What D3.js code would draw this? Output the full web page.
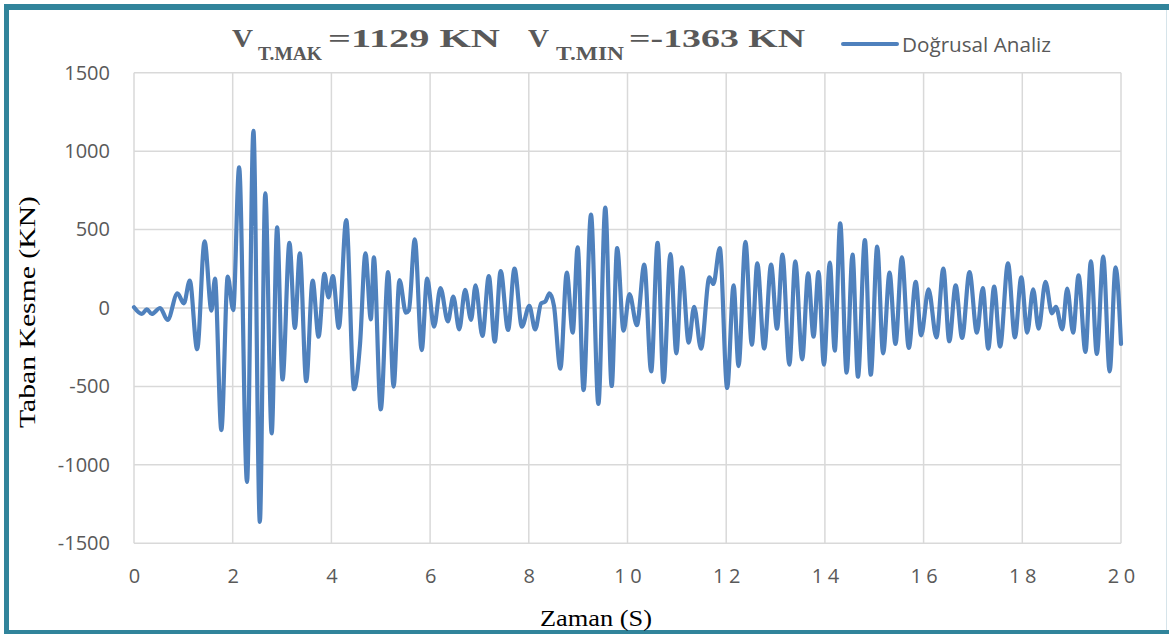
<!DOCTYPE html>
<html>
<head>
<meta charset="utf-8">
<script src="https://cdn.jsdelivr.net/npm/d3@7/dist/d3.min.js"></script>
<style>
  html, body { margin: 0; padding: 0; background: #fff; }
  svg { display: block; }
</style>
</head>
<body>
<svg id="chart" width="1169" height="634"></svg>
<script>
// Base shear time history (extrema of the response, seconds / kN)
const timeS = [
  0.00, 0.16, 0.26, 0.36, 0.53, 0.68, 0.88, 1.01, 1.13, 1.28,
  1.43, 1.57, 1.64, 1.77, 1.90, 2.01, 2.13, 2.29, 2.42, 2.55,
  2.66, 2.79, 2.90, 3.01, 3.15, 3.26, 3.36, 3.49, 3.62, 3.74,
  3.86, 3.94, 4.03, 4.15, 4.30, 4.46, 4.58, 4.69, 4.80, 4.86,
  5.00, 5.15, 5.26, 5.38, 5.51, 5.57, 5.69, 5.83, 5.94, 6.08,
  6.21, 6.36, 6.47, 6.59, 6.71, 6.83, 6.92, 7.06, 7.19, 7.31,
  7.43, 7.58, 7.71, 7.86, 8.01, 8.13, 8.25, 8.33, 8.42, 8.51,
  8.64, 8.77, 8.89, 8.99, 9.11, 9.26, 9.41, 9.55, 9.68, 9.79,
  9.92, 10.04, 10.19, 10.34, 10.48, 10.61, 10.73, 10.87, 10.99, 11.10,
  11.24, 11.35, 11.49, 11.66, 11.74, 11.87, 12.02, 12.15, 12.25, 12.39,
  12.52, 12.63, 12.77, 12.91, 13.03, 13.14, 13.28, 13.40, 13.54, 13.66,
  13.77, 13.87, 13.98, 14.10, 14.20, 14.31, 14.44, 14.56, 14.67, 14.81,
  14.93, 15.06, 15.18, 15.31, 15.43, 15.56, 15.70, 15.84, 15.95, 16.10,
  16.26, 16.40, 16.52, 16.65, 16.78, 16.93, 17.08, 17.20, 17.31, 17.43,
  17.55, 17.71, 17.85, 17.98, 18.10, 18.22, 18.33, 18.47, 18.60, 18.68,
  18.81, 18.91, 19.03, 19.14, 19.28, 19.39, 19.51, 19.64, 19.77, 19.89,
  20.00
];
const shearKN = [
  5, -38, -8, -38, 0, -76, 93, 30, 174, -263,
  425, -17, 187, -778, 200, -13, 897, -1109, 1129, -1363,
  731, -799, 514, -455, 416, -127, 349, -467, 174, -183,
  217, 68, 204, -127, 561, -518, -230, 349, -72, 323,
  -646, 229, -501, 178, -30, -15, 438, -268, 187, -119,
  127, -85, 72, -136, 115, -76, 145, -178, 204, -215,
  236, -140, 251, -119, 13, -136, 30, 40, 93, 13,
  -387, 225, -157, 387, -523, 595, -612, 640, -497, 382,
  -145, 89, -110, 276, -404, 416, -472, 344, -289, 259,
  -221, 8, -259, 196, 153, 382, -510, 145, -370, 421,
  -234, 285, -259, 276, -132, 340, -361, 297, -327, 221,
  -183, 229, -361, 289, -272, 540, -412, 340, -438, 433,
  -425, 391, -289, 225, -229, 323, -255, 166, -174, 119,
  -187, 251, -212, 145, -191, 229, -157, 127, -259, 136,
  -246, 285, -187, 196, -157, 119, -132, 166, -34, 8,
  -136, 123, -157, 208, -280, 297, -293, 327, -404, 259,
  -229
];
const xTicks = [0, 2, 4, 6, 8, 10, 12, 14, 16, 18, 20];
const yTicks = [-1500, -1000, -500, 0, 500, 1000, 1500];
const seriesName = "Doğrusal Analiz";
const vMax = 1129, vMin = -1363;

const svg = d3.select("#chart");
const grey = "#595959";
const blue = "#4F81BD";
const plain = d => String(d); // hyphen-minus, as in the spreadsheet

// Frame around the chart
svg.append("rect").attr("x", 0).attr("y", 0).attr("width", 1169).attr("height", 634).attr("fill", "#fff");
svg.append("rect").attr("x", 4).attr("y", 4).attr("width", 1165).attr("height", 6).attr("fill", "#31849B");
svg.append("rect").attr("x", 4).attr("y", 4).attr("width", 5).attr("height", 630).attr("fill", "#31849B");
svg.append("rect").attr("x", 4).attr("y", 630).attr("width", 1165).attr("height", 4).attr("fill", "#31849B");
svg.append("rect").attr("x", 1166).attr("y", 10).attr("width", 1).attr("height", 620).attr("fill", "#d6e4ea");

const x = d3.scaleLinear().domain([0, 20]).range([134, 1121]);
const y = d3.scaleLinear().domain([-1500, 1500]).range([543.3, 72.7]);

// Grid
const grid = svg.append("g").attr("stroke", "#d9d9d9").attr("stroke-width", 1.5);
grid.selectAll("line.h").data(yTicks).join("line")
  .attr("x1", x(0)).attr("x2", x(20)).attr("y1", d => y(d)).attr("y2", d => y(d));
grid.selectAll("line.v").data(xTicks).join("line")
  .attr("y1", y(1500)).attr("y2", y(-1500)).attr("x1", d => x(d)).attr("x2", d => x(d));

// Axes (labels only)
const yAxis = svg.append("g").attr("transform", `translate(${x(0)},0)`)
  .call(d3.axisLeft(y).tickValues(yTicks).tickSize(0).tickPadding(24).tickFormat(plain));
yAxis.select(".domain").remove();
yAxis.selectAll("text").attr("font-family", "Open Sans").attr("font-size", 20).attr("fill", grey);

const xAxis = svg.append("g").attr("transform", `translate(0,${y(-1500)})`)
  .call(d3.axisBottom(x).tickValues(xTicks).tickSize(0).tickPadding(0).tickFormat(plain));
xAxis.select(".domain").remove();
xAxis.selectAll("text").attr("font-family", "Open Sans").attr("font-size", 20).attr("fill", grey)
  .attr("dy", null).attr("y", 40).attr("letter-spacing", 4.5).attr("dx", 2.25);

// Line
const data = timeS.map((t, i) => [t, shearKN[i]]);
svg.append("path").datum(data)
  .attr("fill", "none").attr("stroke", blue).attr("stroke-width", 4.2)
  .attr("stroke-linejoin", "round").attr("stroke-linecap", "round")
  .attr("d", d3.line().x(d => x(d[0])).y(d => y(d[1])).curve(d3.curveMonotoneX));

// Title
const title = svg.append("g").attr("font-family", "Liberation Serif").attr("font-weight", "bold").attr("fill", grey);
function seg(txt, x0, w, base, size) {
  title.append("text").attr("x", x0).attr("y", base).attr("font-size", size)
    .attr("textLength", w).attr("lengthAdjust", "spacingAndGlyphs").text(txt);
}
seg("V", 232, 21, 47, 25);
seg("T.MAK", 258, 64, 60, 18);
seg("=" + vMax + " KN", 328, 172, 47, 25);
seg("V", 528, 21, 47, 25);
seg("T.MIN", 556, 68, 60, 18);
seg("=" + vMin + " KN", 629, 176, 47, 25);

// Legend
svg.append("line").attr("x1", 843).attr("x2", 897).attr("y1", 44).attr("y2", 44)
  .attr("stroke", blue).attr("stroke-width", 4).attr("stroke-linecap", "round");
svg.append("text").attr("x", 902).attr("y", 52).attr("font-family", "Open Sans").attr("font-size", 20)
  .attr("fill", grey).attr("textLength", 149).attr("lengthAdjust", "spacingAndGlyphs").text(seriesName);

// Axis titles
svg.append("text").attr("x", 596).attr("y", 626).attr("text-anchor", "middle")
  .attr("font-family", "Liberation Serif").attr("font-size", 24).attr("fill", "#000")
  .attr("textLength", 112).attr("lengthAdjust", "spacingAndGlyphs").text("Zaman (S)");
svg.append("text").attr("transform", "translate(35,312) rotate(-90)").attr("text-anchor", "middle")
  .attr("font-family", "Liberation Serif").attr("font-size", 24).attr("fill", "#000")
  .attr("textLength", 232).attr("lengthAdjust", "spacingAndGlyphs").text("Taban Kesme (KN)");
</script>
</body>
</html>
